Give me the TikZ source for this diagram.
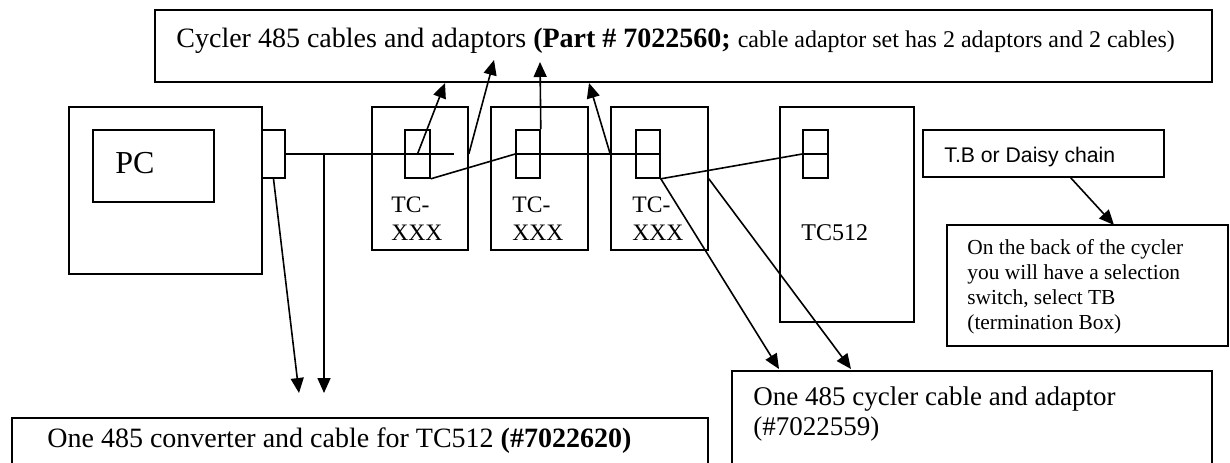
\documentclass[tikz,border=0pt]{standalone}
\usepackage{fontspec}
\setmainfont{Liberation Serif}
\newfontfamily\arialfont{Liberation Sans}
\usetikzlibrary{arrows.meta,fit,positioning}

\begin{document}
\begin{tikzpicture}[
  x=0.5pt, y=-0.5pt,
  box/.style={rectangle,draw,line width=0.8pt,inner sep=0pt},
  lbl/.style={inner sep=0pt,anchor=base west,align=left},
  wire/.style={line width=0.8pt},
  arrow/.style={-{Triangle[length=7.5pt,width=6.5pt]},line width=0.8pt}
]
  \useasboundingbox (0,0) rectangle (1230,462);

  % boxes
  \node[box,fit={(155,10) (1212,82)}] (parts) {};
  \node[box,fit={(69,107) (262,274)}] (pc) {};
  \node[box,fit={(93,130) (214,202)}] (screen) {};
  \node[box,fit={(262,130) (285,178)}] (pcport) {};
  \node[box,fit={(372,107) (468,250)}] (tcA) {};
  \node[box,fit={(405,130) (430,178)}] (portA) {};
  \node[box,fit={(491,107) (588,250)}] (tcB) {};
  \node[box,fit={(516,130) (540,178)}] (portB) {};
  \node[box,fit={(611,107) (708,250)}] (tcC) {};
  \node[box,fit={(636,130) (660,178)}] (portC) {};
  \node[box,fit={(780,107) (914,322)}] (tcmain) {};
  \node[box,fit={(803,130) (828,178)}] (portD) {};
  \node[box,fit={(923,130) (1164,177)}] (tbbox) {};
  \node[box,fit={(947,225) (1228,346)}] (notebox) {};
  \node[box,fit={(732,371) (1212,480)}] (cablebox) {};
  \node[box,fit={(12,418) (708,480)}] (convbox) {};

  % texts (base = last line)
  \node[lbl,font=\fontsize{14}{17}\selectfont] (partstxt) at (176,47)
    {Cycler 485 cables and adaptors \textbf{(Part \# 7022560;} {\fontsize{12}{14}\selectfont cable adaptor set has 2 adaptors and 2 cables)}};
  \node[lbl,font=\fontsize{16}{19}\selectfont] (pctxt) at (115,173) {PC};
  \node[lbl,font=\fontsize{11.8}{14}\selectfont] (tcAtxt) at (391,240) {TC-\\XXX};
  \node[lbl,font=\fontsize{11.8}{14}\selectfont] (tcBtxt) at (512,240) {TC-\\XXX};
  \node[lbl,font=\fontsize{11.8}{14}\selectfont] (tcCtxt) at (632,240) {TC-\\XXX};
  \node[lbl,font=\fontsize{12}{14}\selectfont] (tcmaintxt) at (801,240) {TC512};
  \node[lbl,font=\arialfont\fontsize{10.6}{13}\selectfont] (tbtxt) at (944,162) {T.B or Daisy chain};
  \node[lbl,font=\fontsize{10.7}{12.4}\selectfont] (notetxt) at (967,329)
    {On the back of the cycler\\you will have a selection\\switch, select TB\\(termination Box)};
  \node[lbl,font=\fontsize{13.5}{15}\selectfont] (cabletxt) at (753,435)
    {One 485 cycler cable and adaptor\\(\#7022559)};
  \node[lbl,font=\fontsize{14}{17}\selectfont] (convtxt) at (47,447)
    {One 485 converter and cable for TC512 \textbf{(\#7022620)}};

  % free ends
  \coordinate (busend) at (454,154);
  \coordinate (tap) at (324,154);
  \coordinate (tapend) at (324,393);
  \coordinate (pcend) at (299,393);
  \coordinate (upA) at (445,83);
  \coordinate (upB) at (494,60);
  \coordinate (upC) at (540,62);
  \coordinate (upD) at (589,83);
  \coordinate (downA) at (779,369);
  \coordinate (downB) at (851,369);
  \coordinate (tbstart) at (1070,177);
  \coordinate (tbend) at (1114,225);

  % wiring
  \draw[wire] (pcport.east) -- (busend);
  \draw[wire] (portA.south east) -- (portB.west) -- (portC.east);
  \draw[wire] (portC.south east) -- (portD.west) -- (portD.east);

  % arrows
  \draw[arrow] (tap) -- (tapend);
  \draw[arrow] (pcport.south) -- (pcend);
  \draw[arrow] (portA.center) -- (upA);
  \draw[arrow] (tcA.east |- portA.center) -- (upB);
  \draw[arrow] (portB.north east) -- (upC);
  \draw[arrow] (tcC.west |- portC.center) -- (upD);
  \draw[arrow] (portC.south east) -- (downA);
  \draw[arrow] (tcC.east |- portC.south) -- (downB);
  \draw[arrow] (tbstart) -- (tbend);
\end{tikzpicture}
\end{document}
